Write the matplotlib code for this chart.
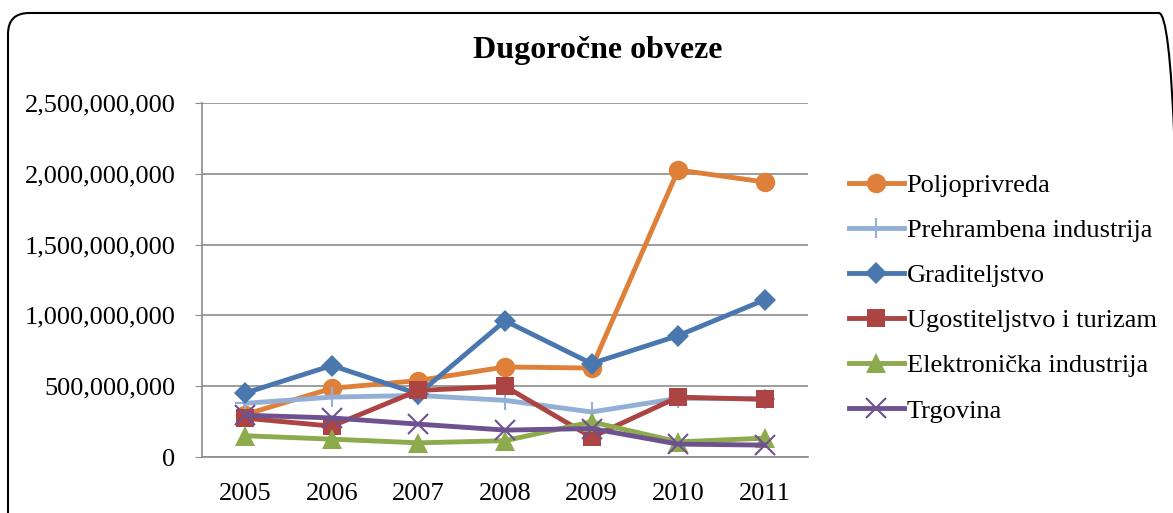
import matplotlib
matplotlib.use("Agg")
import matplotlib.pyplot as plt
from matplotlib.patches import FancyBboxPatch
from matplotlib.ticker import FuncFormatter, MultipleLocator

years = ["2005", "2006", "2007", "2008", "2009", "2010", "2011"]
poljoprivreda = [300e6, 485e6, 540e6, 636e6, 628e6, 2027e6, 1942e6]
prehrambena = [379e6, 423e6, 435e6, 400e6, 318e6, 414e6, 412e6]
graditeljstvo = [452e6, 646e6, 445e6, 962e6, 660e6, 857e6, 1110e6]
ugostiteljstvo = [274e6, 218e6, 470e6, 499e6, 140e6, 423e6, 407e6]
elektronicka = [150e6, 126e6, 100e6, 115e6, 248e6, 107e6, 133e6]
trgovina = [295e6, 276e6, 232e6, 190e6, 201e6, 91e6, 84e6]

series = [
    ("Poljoprivreda", poljoprivreda, "#DE8039", "o", 14),
    ("Prehrambena industrija", prehrambena, "#93AFD6", "+", 14),
    ("Graditeljstvo", graditeljstvo, "#4A78AE", "D", 11),
    ("Ugostiteljstvo i turizam", ugostiteljstvo, "#AB4442", "s", 13),
    ("Elektronička industrija", elektronicka, "#8DAA4C", "^", 14),
    ("Trgovina", trgovina, "#6E5290", "x", 14),
]

plt.rcParams['font.family'] = ['Liberation Serif', 'DejaVu Serif']

W, H = 1173, 513
fig = plt.figure(figsize=(W / 100, H / 100), dpi=100)
border = FancyBboxPatch((8 / W, -0.1), (1180 - 8) / W, 1.1 - 13 / H,
                        boxstyle="round,pad=0,rounding_size=0.018",
                        transform=fig.transFigure, facecolor="none",
                        edgecolor="black", linewidth=1.5,
                        mutation_aspect=W / H, zorder=5)
fig.patches.append(border)

ax = fig.add_axes([202 / W, 56 / H, 606 / W, 354 / H])
x = list(range(len(years)))
for name, vals, color, marker, ms in series:
    kw = dict(markeredgewidth=1.5) if marker in "+x" else dict(markeredgewidth=0)
    ax.plot(x, vals, color=color, linewidth=3.5, marker=marker, markersize=ms,
            markerfacecolor=color, markeredgecolor=color, label=name,
            solid_joinstyle="round", **kw)

ax.set_xlim(-0.5, len(years) - 0.5)
ax.set_ylim(0, 2.5e9)
ax.yaxis.set_major_locator(MultipleLocator(5e8))
ax.yaxis.set_major_formatter(FuncFormatter(lambda v, p: f"{int(v):,}"))
ax.set_xticks(x)
ax.set_xticklabels(years)
ax.grid(axis="y", color="#8C8C8C", linewidth=1.2)
ax.set_axisbelow(True)
for s in ["top", "right"]:
    ax.spines[s].set_visible(False)
for s in ["left", "bottom"]:
    ax.spines[s].set_color("#8C8C8C")
    ax.spines[s].set_linewidth(1.2)
ax.tick_params(axis="both", labelsize=19, colors="#8C8C8C", labelcolor="black",
               length=5)
ax.tick_params(axis="x", length=0, pad=19)
ax.tick_params(axis="y", pad=14)

fig.text(598 / W, 1 - 51 / H, "Dugoročne obveze", ha="center", va="center",
         fontsize=23, fontweight="bold")

leg = fig.legend(loc="upper left", bbox_to_anchor=(838 / W, 1 - 163 / H),
                 frameon=False, fontsize=19, handlelength=2.1, labelspacing=0.82,
                 handletextpad=0.1, borderaxespad=0)

fig.savefig("out.png", dpi=100)
